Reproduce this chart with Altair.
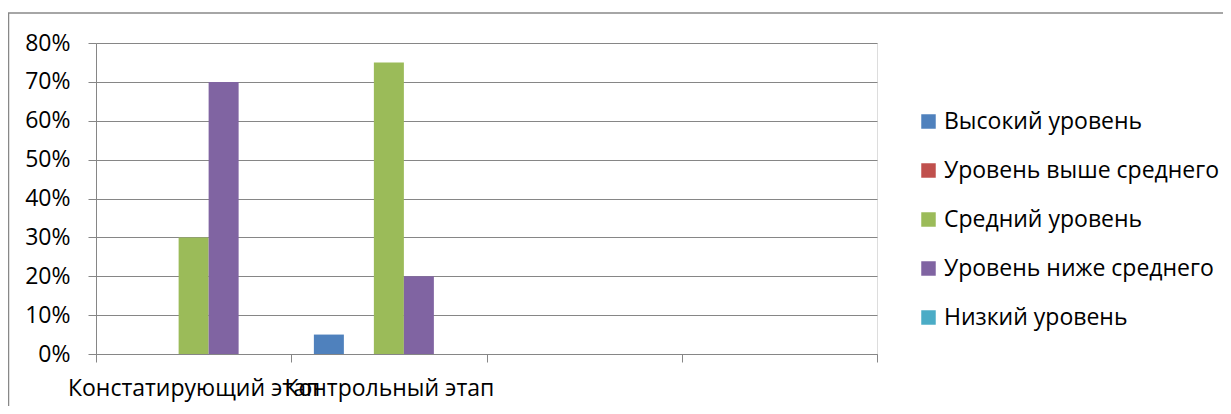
import altair as alt
import pandas as pd

# ---- data ----
categories = ["Констатирующий этап", "Контрольный этап"]
x_domain = ["Констатирующий этап", "Контрольный этап", "empty3", "empty4"]
series = [
    "Высокий уровень",
    "Уровень выше среднего",
    "Средний уровень",
    "Уровень ниже среднего",
    "Низкий уровень",
]
colors = ["#4F81BD", "#C0504D", "#9BBB59", "#8064A2", "#4BACC6"]
values_stage1 = [0.00, 0.00, 0.30, 0.70, 0.00]
values_stage2 = [0.05, 0.00, 0.75, 0.20, 0.00]
y_ticks = [0.0, 0.1, 0.2, 0.3, 0.4, 0.5, 0.6, 0.7, 0.8]

rows = []
for cat, vals in zip(categories, [values_stage1, values_stage2]):
    for s, v in zip(series, vals):
        rows.append({"stage": cat, "level": s, "value": v})
df = pd.DataFrame(rows)

FONT = "Open Sans"
FS = 23
GRAY = "#868686"

bars = (
    alt.Chart(df)
    .mark_bar()
    .encode(
        x=alt.X(
            "stage:N",
            sort=x_domain,
            scale=alt.Scale(domain=x_domain, paddingInner=0, paddingOuter=0),
            axis=alt.Axis(
                title=None,
                labelAngle=0,
                labelExpr="(datum.value == 'empty3' || datum.value == 'empty4') ? '' : datum.value",
                labelOverlap=False,
                labelLimit=0,
                labelFont=FONT,
                labelFontSize=FS,
                labelColor="#000000",
                labelBaseline="alphabetic",
                labelPadding=33,
                tickBand="extent",
                tickSize=8,
                tickColor=GRAY,
                domainColor=GRAY,
                grid=False,
            ),
        ),
        xOffset=alt.XOffset(
            "level:N",
            sort=series,
            scale=alt.Scale(domain=series, paddingInner=0, paddingOuter=0.754),
        ),
        y=alt.Y(
            "value:Q",
            scale=alt.Scale(domain=[0, 0.8], nice=False),
            axis=alt.Axis(
                title=None,
                values=y_ticks,
                format=".0%",
                labelFont=FONT,
                labelFontSize=FS,
                labelColor="#000000",
                labelPadding=18,
                tickSize=8,
                tickColor=GRAY,
                domainColor=GRAY,
                grid=True,
                gridColor=GRAY,
                gridWidth=1.2,
            ),
        ),
        color=alt.Color(
            "level:N",
            sort=series,
            scale=alt.Scale(domain=series, range=colors),
            legend=alt.Legend(
                title=None,
                orient="none",
                legendX=821,
                legendY=67,
                symbolType="square",
                symbolSize=210,
                symbolStrokeWidth=0,
                labelFont=FONT,
                labelFontSize=FS,
                labelColor="#000000",
                labelOffset=4,
                rowPadding=25,
                padding=0,
                labelLimit=0,
            ),
        ),
    )
)

frame_df = pd.DataFrame({"k": [0]})
frame_top = alt.Chart(frame_df).mark_rule(color="#888888", strokeWidth=1.5).encode(
    x=alt.value(-88), x2=alt.value(1127), y=alt.value(-30)
)
frame_left = alt.Chart(frame_df).mark_rule(color="#888888", strokeWidth=1.5).encode(
    x=alt.value(-87.5), y=alt.value(-30), y2=alt.value(365)
)

chart = (
    alt.layer(frame_top, frame_left, bars)
    .properties(
        width=781,
        height=311,
        padding={"left": 88, "top": 35, "right": 346, "bottom": 52},
        autosize=alt.AutoSizeParams(type="none"),
    )
    .configure_view(stroke=None)
    .configure(background="white")
)

chart.save("out.html", embed_options={"renderer": "svg", "actions": False})
